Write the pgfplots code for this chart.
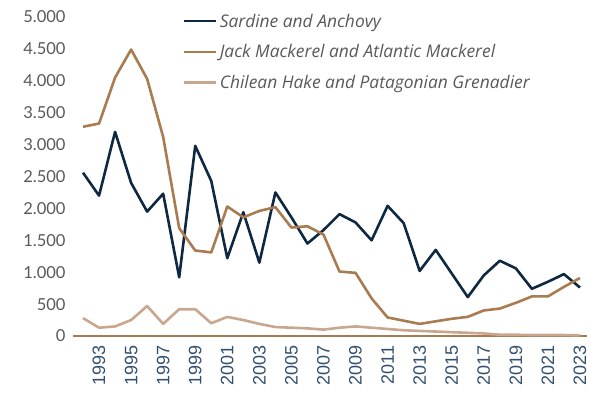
\documentclass[border=0pt]{standalone}
\usepackage{pgfplots}
\pgfplotsset{compat=1.18}
\usepackage{fontspec}
\setmainfont{Lato}
\newfontfamily\xfont{Liberation Sans}
\newfontfamily\legfont{Open Sans}

\definecolor{navy}{HTML}{0E2841}
\definecolor{jack}{HTML}{A87B50}
\definecolor{hake}{HTML}{C9A68E}
\definecolor{ylab}{HTML}{595959}
\definecolor{xlab}{HTML}{34506E}

\begin{document}
\begin{tikzpicture}
\begin{axis}[
  scale only axis,
  width=513pt, height=319pt,
  at={(0pt,0pt)}, anchor=south west,
  xmin=1991.5, xmax=2023.5,
  ymin=0, ymax=5000,
  axis line style={draw=none},
  major tick length=0pt,
  xtick={1993,1995,...,2023},
  ytick={0,500,...,5000},
  x tick label style={
    /pgf/number format/.cd, set thousands separator={}, assume math mode=true,
    /tikz/.cd, rotate=90, anchor=east, font=\xfont\fontsize{18}{20}\selectfont,
    text=xlab, xshift=-6pt},
  y tick label style={
    /pgf/number format/.cd, 1000 sep={.}, assume math mode=true,
    /tikz/.cd, font=\fontsize{16.5}{18}\selectfont, text=ylab, xshift=-6pt},
  clip=false,
  legend cell align=left,
  legend style={
    at={(axis description cs:0.2105,1.017)}, anchor=north west,
    draw=none, fill=none, inner sep=0pt,
    font=\legfont\itshape\fontsize{17.4}{20}\selectfont, text=ylab,
    row sep=12pt,
    /tikz/every even column/.append style={column sep=5pt}},
  legend image code/.code={\draw[#1] (0pt,0pt) -- (32pt,0pt);},
  every axis plot/.append style={line width=2.6pt, line join=round},
]
\draw[jack, line width=2.2pt] (rel axis cs:-0.004,0) -- (rel axis cs:0.998,0);

\addplot[navy] coordinates {
(1992,2560) (1993,2200) (1994,3200) (1995,2400) (1996,1950) (1997,2230)
(1998,920) (1999,2980) (2000,2430) (2001,1220) (2002,1940) (2003,1150)
(2004,2250) (2005,1860) (2006,1450) (2007,1660) (2008,1910) (2009,1780)
(2010,1500) (2011,2040) (2012,1770) (2013,1020) (2014,1350) (2015,980)
(2016,610) (2017,950) (2018,1180) (2019,1060) (2020,740) (2021,850)
(2022,970) (2023,760)};
\addlegendentry{Sardine and Anchovy}

\addplot[jack] coordinates {
(1992,3280) (1993,3330) (1994,4050) (1995,4490) (1996,4030) (1997,3120)
(1998,1690) (1999,1340) (2000,1310) (2001,2030) (2002,1860) (2003,1960)
(2004,2020) (2005,1700) (2006,1720) (2007,1590) (2008,1010) (2009,990)
(2010,590) (2011,290) (2012,240) (2013,190) (2014,230) (2015,270)
(2016,300) (2017,400) (2018,430) (2019,520) (2020,620) (2021,620)
(2022,770) (2023,910)};
\addlegendentry{Jack Mackerel and Atlantic Mackerel}

\addplot[hake] coordinates {
(1992,280) (1993,130) (1994,150) (1995,250) (1996,470) (1997,190)
(1998,420) (1999,420) (2000,200) (2001,300) (2002,250) (2003,190)
(2004,140) (2005,130) (2006,120) (2007,100) (2008,130) (2009,150)
(2010,130) (2011,110) (2012,90) (2013,80) (2014,70) (2015,60)
(2016,50) (2017,40) (2018,20) (2019,20) (2020,15) (2021,15)
(2022,15) (2023,10)};
\addlegendentry{Chilean Hake and Patagonian Grenadier}
\end{axis}
\pgfresetboundingbox
\path (-75pt,-58pt) rectangle (515pt,336pt);
\end{tikzpicture}
\end{document}
